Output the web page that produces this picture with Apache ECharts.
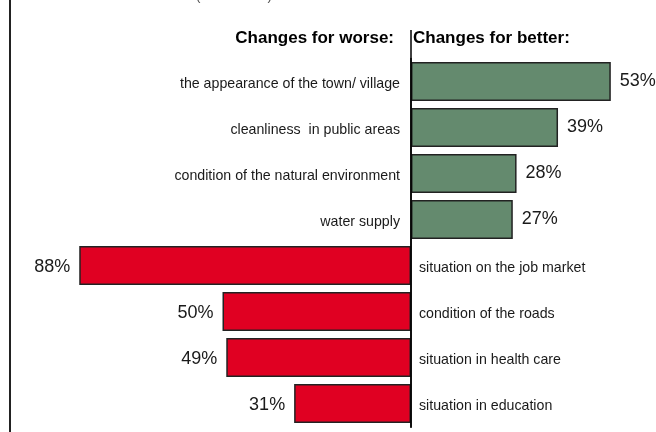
<!DOCTYPE html>
<html>
<head>
<meta charset="utf-8">
<script src="https://cdn.jsdelivr.net/npm/echarts@6/dist/echarts.min.js"></script>
<style>
  html, body { margin: 0; padding: 0; background: #ffffff; }
  #chart { width: 656px; height: 432px; }
</style>
</head>
<body>
<div id="chart"></div>
<script>
// Aspects of local life that changed, share of respondents (%)
const categories = [
  'the appearance of the town/ village',
  'cleanliness  in public areas',
  'condition of the natural environment',
  'water supply',
  'situation on the job market',
  'condition of the roads',
  'situation in health care',
  'situation in education'
];
// share saying the aspect changed for the better
const better = [53, 39, 28, 27, null, null, null, null];
// share saying the aspect changed for the worse
const worse = [null, null, null, null, 88, 50, 49, 31];

const headerWorse = 'Changes for worse:';
const headerBetter = 'Changes for better:';
const topNote = '(2002-2007)';

const FONT = '"Liberation Sans", Arial, Helvetica, sans-serif';
const INK = '#1a1a1a';

const chart = echarts.init(document.getElementById('chart'), null, { renderer: 'canvas' });

// worse values are drawn to the left of zero
const worseSigned = worse.map(v => (v == null ? null : -v));
// one value per row, used to place the row names on the free side of the axis
const rowValue = categories.map((_, i) => (better[i] != null ? better[i] : -worse[i]));

const option = {
  backgroundColor: '#ffffff',
  animation: false,
  grid: { left: 34, right: 18.8, top: 58.5, bottom: 5.5, containLabel: false },
  xAxis: {
    type: 'value',
    min: -100,
    max: 60,
    show: false
  },
  yAxis: {
    type: 'category',
    data: categories,
    inverse: true,
    axisLine: { show: true, onZero: true, lineStyle: { color: '#000', width: 1.5 } },
    axisTick: { show: false },
    axisLabel: { show: false },
    splitLine: { show: false }
  },
  series: [
    {
      name: 'better',
      type: 'bar',
      data: better,
      barGap: '-100%',
      barCategoryGap: '15%',
      itemStyle: { color: '#648a6e', borderColor: '#222', borderWidth: 1.5 },
      label: {
        show: true,
        position: 'right',
        distance: 9,
        formatter: p => p.value + '%',
        fontFamily: FONT,
        fontSize: 18,
        color: INK
      },
      z: 2
    },
    {
      name: 'worse',
      type: 'bar',
      data: worseSigned,
      barGap: '-100%',
      barCategoryGap: '15%',
      itemStyle: { color: '#e00022', borderColor: '#222', borderWidth: 1.5 },
      label: {
        show: true,
        position: 'left',
        distance: 9,
        offset: [0, 1.5],
        formatter: p => Math.abs(p.value) + '%',
        fontFamily: FONT,
        fontSize: 18,
        color: INK
      },
      z: 2
    },
    {
      // transparent copy of each row that carries the row name
      name: 'names',
      type: 'bar',
      silent: true,
      barGap: '-100%',
      barCategoryGap: '15%',
      data: rowValue.map((v, i) => ({
        value: v,
        label: { position: v >= 0 ? 'left' : 'right', distance: v >= 0 ? 11 : 8 }
      })),
      itemStyle: { color: 'rgba(0,0,0,0)' },
      label: {
        show: true,
        offset: [0, 2.5],
        formatter: p => p.name,
        fontFamily: FONT,
        fontSize: 14.2,
        color: INK
      },
      z: 1
    }
  ]
};

chart.setOption(option);

// zero line position, taken from the value axis
const x0 = chart.convertToPixel({ xAxisIndex: 0 }, 0);

chart.setOption({
  graphic: [
    {
      type: 'line',
      shape: { x1: 10, y1: 0, x2: 10, y2: 432 },
      style: { stroke: '#222', lineWidth: 2 },
      silent: true
    },
    {
      type: 'line',
      shape: { x1: x0, y1: 30, x2: x0, y2: 428 },
      style: { stroke: '#000', lineWidth: 1.5 },
      silent: true,
      z: 10
    },
    {
      type: 'text',
      x: x0 - 17,
      y: 38,
      style: {
        text: headerWorse,
        font: 'bold 17px ' + FONT,
        fill: '#000',
        align: 'right',
        verticalAlign: 'middle'
      }
    },
    {
      type: 'text',
      x: x0 + 2,
      y: 38,
      style: {
        text: headerBetter,
        font: 'bold 17px ' + FONT,
        fill: '#000',
        align: 'left',
        verticalAlign: 'middle'
      }
    },
    {
      type: 'text',
      x: 234,
      y: 3,
      style: {
        text: topNote,
        font: '14px ' + FONT,
        fill: '#555',
        align: 'center',
        verticalAlign: 'bottom'
      }
    }
  ]
});
</script>
</body>
</html>
